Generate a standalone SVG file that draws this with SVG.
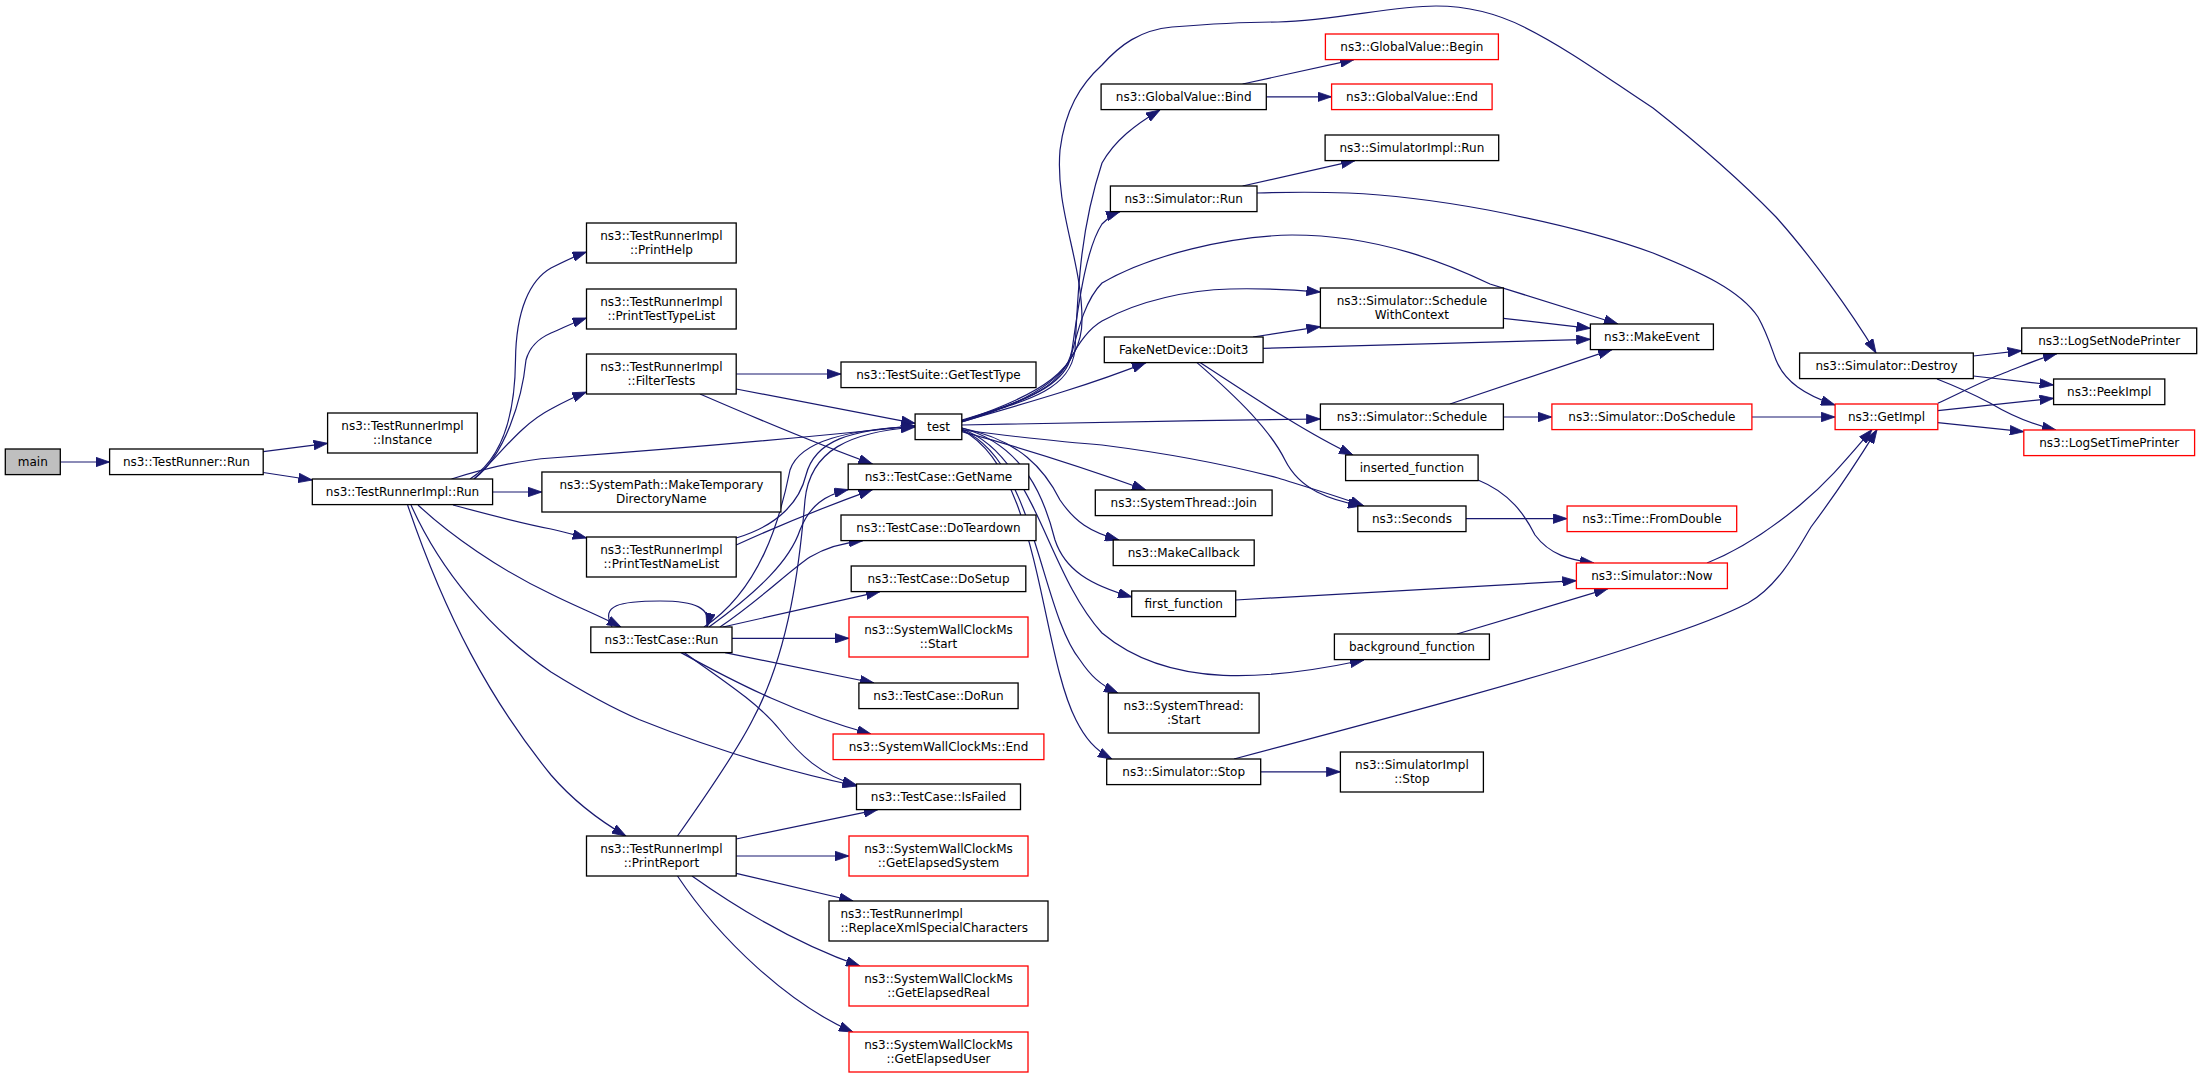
<svg xmlns="http://www.w3.org/2000/svg" width="2203" height="1077" viewBox="0 0 2203 1077">
<defs>
<marker id="ah" markerUnits="userSpaceOnUse" markerWidth="14" markerHeight="10" refX="14" refY="4.8" orient="auto" viewBox="0 0 14 9.6">
<path d="M0,0 L14,4.8 L0,9.6 z" fill="#191970" stroke="#191970" stroke-width="0.8"/>
</marker>
</defs>
<style>
rect{fill:#fff;stroke:#000;stroke-width:1.3}
.r rect{stroke:#ff0000}
.g rect{fill:#bfbfbf}
text{font-family:"DejaVu Sans",Verdana,sans-serif;font-size:12px;fill:#000;text-anchor:middle}
#edges path{fill:none;stroke:#191970;stroke-width:1.2;marker-end:url(#ah)}
</style>
<rect x="0" y="0" width="2203" height="1077" style="fill:#fff;stroke:none"/>
<g id="edges">
<path d="M60.3,462 L109.6,462"/>
<path d="M263.2,451.7 L327.6,443.3"/>
<path d="M263.2,472.5 L312.3,480"/>
<path d="M470,479 C500,460 515,420 515.5,360 C516,310 530,280 551,268 C565,261 575,256 586.5,252"/>
<path d="M474,479 C505,455 522,400 526,360 C530,345 540,338 551,333 C565,327 575,322 586.5,318"/>
<path d="M474,479 C500,455 520,425 551,409 C562,403 574,397 586.5,392"/>
<path d="M451.5,479 C490,467 520,460 551,458 C700,447 820,436 915,426"/>
<path d="M492.7,492 L541.9,492"/>
<path d="M453,505 C490,515 520,523 551,529 C565,532 575,535 586.6,538"/>
<path d="M418,505 C450,535 500,570 551,594 C575,606 600,616 621,627"/>
<path d="M411,505 C440,570 490,630 551,672 C580,690 610,707 639,719.5 C720,752 790,772 856.5,786"/>
<path d="M407.6,505 C445,615 490,700 551,775 C570,797 595,818 626,836"/>
<path d="M736.2,374 L841,374"/>
<path d="M736.2,389 L915.1,423.3"/>
<path d="M700,394 C760,420 820,445 872.5,464"/>
<path d="M736.2,545 C780,525 830,505 872.5,489.6"/>
<path d="M736.2,538 C780,525 800,500 806,475 C815,440 850,430 915.1,426"/>
<path d="M612,627 C600,605 620,601 660,601 C695,601 712,608 707,627"/>
<path d="M704,627 C760,590 780,520 790,470 C800,440 850,430 915.1,426"/>
<path d="M709,627 C760,590 790,560 800,530 C810,505 825,495 848.2,489.6"/>
<path d="M720,627 C760,600 790,570 810,557 C825,548 840,543 863,540.6"/>
<path d="M723,627 L880,591.6"/>
<path d="M731.6,638.3 L849,638.3"/>
<path d="M725,652.6 L874,683"/>
<path d="M681,652.6 C740,685 800,715 871,734"/>
<path d="M684,652.6 C730,685 760,705 780,730 C800,755 820,775 856.5,785"/>
<path d="M677.5,836 C710,790 740,745 753,719 C790,650 800,560 805,500 C810,450 850,432 915.1,427"/>
<path d="M736.2,839 L877.8,809.6"/>
<path d="M736.2,856 L849,856"/>
<path d="M736.2,873.3 L853.2,901"/>
<path d="M692,876 C740,910 800,945 860,966"/>
<path d="M677.5,876 C720,940 790,1005 853,1032"/>
<path d="M961.8,421 C1040,395 1082,370 1082,320 C1082,260 1055,210 1060,150 C1065,110 1080,85 1102,65 C1120,45 1140,30 1172,27 C1210,24 1250,22 1278,22 C1340,20 1390,6 1436,6 C1470,6 1500,15 1524,27 C1570,50 1610,80 1653,108 C1700,145 1740,180 1776,217 C1810,255 1850,310 1876,353"/>
<path d="M961.8,420 C1030,400 1070,390 1075,350 C1078,290 1080,230 1102,163 C1115,140 1135,125 1160,110"/>
<path d="M961.8,421 C1030,400 1065,385 1072,350 C1078,310 1085,250 1102,224 C1108,218 1113,214 1120,211.6"/>
<path d="M961.8,421 C1030,400 1062,385 1070,360 C1078,330 1085,300 1102,283 C1150,255 1230,236 1292,235 C1380,235 1450,265 1490,284 C1540,300 1580,312 1618,324"/>
<path d="M961.8,422 C1020,405 1055,385 1070,360 C1080,340 1090,328 1102,321 C1140,300 1190,290 1230,289 C1265,288 1295,290 1320.4,292"/>
<path d="M961.8,421.7 C1030,402 1090,385 1146,362.6"/>
<path d="M961.8,425 C1100,423 1200,420 1320.4,419"/>
<path d="M961.8,430 C1010,436 1060,442 1102,445 C1180,455 1240,468 1278,478 C1310,488 1340,497 1364,506"/>
<path d="M961.8,431.7 C1030,450 1090,470 1146,490"/>
<path d="M961.8,428 C1020,440 1045,470 1060,500 C1075,522 1090,532 1119,540"/>
<path d="M961.8,428 C1025,445 1045,500 1055,540 C1065,570 1090,585 1132,597"/>
<path d="M961.8,429 C1035,455 1045,570 1102,633 C1170,690 1270,680 1364,660"/>
<path d="M961.8,430 C1035,460 1040,610 1080,660 C1090,675 1100,685 1118,693"/>
<path d="M961.8,430 C1040,470 1040,650 1076,720 C1085,738 1095,750 1112,759"/>
<path d="M1242.6,84 L1354,59.6"/>
<path d="M1266.3,96.8 L1331.6,96.8"/>
<path d="M1242.6,186 L1355,160.6"/>
<path d="M1257,193 C1290,192 1320,192 1348,193 C1400,195 1450,203 1488,210 C1550,222 1610,237 1653,253 C1700,272 1740,290 1758,317 C1768,335 1772,350 1776,360 C1785,382 1805,395 1835,405"/>
<path d="M1503.4,318.3 L1590.4,328.3"/>
<path d="M1253,337 L1320.4,326.7"/>
<path d="M1263.1,348.3 L1590.4,339.3"/>
<path d="M1200,362.6 C1235,385 1300,430 1353,455"/>
<path d="M1197,362.6 C1240,400 1270,430 1285,460 C1300,490 1330,500 1362,506"/>
<path d="M1450,404 L1612,349.6"/>
<path d="M1503.4,417 L1551.9,417"/>
<path d="M1751.9,417 L1835.1,417"/>
<path d="M1478,480 C1510,493 1525,515 1535,535 C1550,555 1570,560 1594,563"/>
<path d="M1466,518.6 L1567.1,518.6"/>
<path d="M1235.7,600 L1576.4,580.7"/>
<path d="M1457,634 L1608,588.6"/>
<path d="M1707,563 C1740,550 1770,530 1800,505 C1830,480 1850,455 1872,429.6"/>
<path d="M1234,759 C1400,715 1550,675 1653,640 C1690,628 1725,615 1748,603 C1780,585 1800,545 1811,527 C1835,495 1855,465 1877,429.6"/>
<path d="M1260.7,771.8 L1340.4,771.8"/>
<path d="M1973.3,356 L2021.7,350.7"/>
<path d="M1973.3,376 L2053.6,385"/>
<path d="M1937,379 C1960,388 1975,395 1990,403 C2010,415 2030,424 2056,430"/>
<path d="M1937.8,403.3 C1960,393 1985,380 2004,373 C2025,365 2040,358 2057,353.6"/>
<path d="M1937.8,410.7 L2053.6,398.3"/>
<path d="M1937.8,422.7 L2023.8,431.7"/>
</g>
<g id="main" class="g"><rect x="5.3" y="449" width="55" height="25.6"/><text x="32.8" y="466">main</text></g>
<g id="trrun"><rect x="109.6" y="449" width="153.6" height="25.6"/><text x="186.4" y="466">ns3::TestRunner::Run</text></g>
<g id="instance"><rect x="327.6" y="413" width="149.7" height="40"/><text x="402.5" y="430">ns3::TestRunnerImpl</text><text x="402.5" y="444">::Instance</text></g>
<g id="implrun"><rect x="312.3" y="479" width="180.3" height="25.6"/><text x="402.5" y="496">ns3::TestRunnerImpl::Run</text></g>
<g id="printhelp"><rect x="586.5" y="223" width="149.7" height="40"/><text x="661.4" y="240">ns3::TestRunnerImpl</text><text x="661.4" y="254">::PrintHelp</text></g>
<g id="printtesttypelist"><rect x="586.5" y="289" width="149.7" height="40"/><text x="661.4" y="306">ns3::TestRunnerImpl</text><text x="661.4" y="320">::PrintTestTypeList</text></g>
<g id="filtertests"><rect x="586.5" y="354" width="149.7" height="40"/><text x="661.4" y="371">ns3::TestRunnerImpl</text><text x="661.4" y="385">::FilterTests</text></g>
<g id="maketemp"><rect x="541.9" y="472" width="239" height="40"/><text x="661.4" y="489">ns3::SystemPath::MakeTemporary</text><text x="661.4" y="503">DirectoryName</text></g>
<g id="printtestnamelist"><rect x="586.5" y="537" width="149.7" height="40"/><text x="661.4" y="554">ns3::TestRunnerImpl</text><text x="661.4" y="568">::PrintTestNameList</text></g>
<g id="tcrun"><rect x="590.8" y="627" width="141.2" height="25.6"/><text x="661.4" y="644">ns3::TestCase::Run</text></g>
<g id="printreport"><rect x="586.5" y="836" width="149.7" height="40"/><text x="661.4" y="853">ns3::TestRunnerImpl</text><text x="661.4" y="867">::PrintReport</text></g>
<g id="gettesttype"><rect x="841" y="362" width="195" height="25.6"/><text x="938.5" y="379">ns3::TestSuite::GetTestType</text></g>
<g id="test"><rect x="915.1" y="414" width="46.7" height="25.6"/><text x="938.5" y="431">test</text></g>
<g id="getname"><rect x="848.2" y="464" width="180.6" height="25.6"/><text x="938.5" y="481">ns3::TestCase::GetName</text></g>
<g id="doteardown"><rect x="841" y="515" width="195" height="25.6"/><text x="938.5" y="532">ns3::TestCase::DoTeardown</text></g>
<g id="dosetup"><rect x="851.2" y="566" width="174.6" height="25.6"/><text x="938.5" y="583">ns3::TestCase::DoSetup</text></g>
<g id="start" class="r"><rect x="849" y="617" width="179" height="40"/><text x="938.5" y="634">ns3::SystemWallClockMs</text><text x="938.5" y="648">::Start</text></g>
<g id="dorun"><rect x="858.9" y="683" width="159.2" height="25.6"/><text x="938.5" y="700">ns3::TestCase::DoRun</text></g>
<g id="end" class="r"><rect x="833.1" y="734" width="210.8" height="25.6"/><text x="938.5" y="751">ns3::SystemWallClockMs::End</text></g>
<g id="isfailed"><rect x="856.5" y="784" width="164" height="25.6"/><text x="938.5" y="801">ns3::TestCase::IsFailed</text></g>
<g id="elapsedsystem" class="r"><rect x="849" y="836" width="179" height="40"/><text x="938.5" y="853">ns3::SystemWallClockMs</text><text x="938.5" y="867">::GetElapsedSystem</text></g>
<g id="replace"><rect x="829" y="901" width="219" height="40"/><text x="840.5" y="918" style="text-anchor:start">ns3::TestRunnerImpl</text><text x="840.5" y="932" style="text-anchor:start">::ReplaceXmlSpecialCharacters</text></g>
<g id="elapsedreal" class="r"><rect x="849" y="966" width="179" height="40"/><text x="938.5" y="983">ns3::SystemWallClockMs</text><text x="938.5" y="997">::GetElapsedReal</text></g>
<g id="elapseduser" class="r"><rect x="849" y="1032" width="179" height="40"/><text x="938.5" y="1049">ns3::SystemWallClockMs</text><text x="938.5" y="1063">::GetElapsedUser</text></g>
<g id="bind"><rect x="1101.1" y="84" width="165.2" height="25.6"/><text x="1183.7" y="101">ns3::GlobalValue::Bind</text></g>
<g id="simrun"><rect x="1110.4" y="186" width="146.6" height="25.6"/><text x="1183.7" y="203">ns3::Simulator::Run</text></g>
<g id="doit3"><rect x="1104.3" y="337" width="158.8" height="25.6"/><text x="1183.7" y="354">FakeNetDevice::Doit3</text></g>
<g id="join"><rect x="1095.3" y="490" width="176.8" height="25.6"/><text x="1183.7" y="507">ns3::SystemThread::Join</text></g>
<g id="makecallback"><rect x="1113.2" y="540" width="141" height="25.6"/><text x="1183.7" y="557">ns3::MakeCallback</text></g>
<g id="firstfunction"><rect x="1131.7" y="591" width="104" height="25.6"/><text x="1183.7" y="608">first_function</text></g>
<g id="threadstart"><rect x="1108.3" y="693" width="150.8" height="40"/><text x="1183.7" y="710">ns3::SystemThread:</text><text x="1183.7" y="724">:Start</text></g>
<g id="stop"><rect x="1106.7" y="759" width="154" height="25.6"/><text x="1183.7" y="776">ns3::Simulator::Stop</text></g>
<g id="begin" class="r"><rect x="1325.4" y="34" width="173" height="25.6"/><text x="1411.9" y="51">ns3::GlobalValue::Begin</text></g>
<g id="gvend" class="r"><rect x="1331.6" y="84" width="160.5" height="25.6"/><text x="1411.9" y="101">ns3::GlobalValue::End</text></g>
<g id="simimplrun"><rect x="1325.1" y="135" width="173.6" height="25.6"/><text x="1411.9" y="152">ns3::SimulatorImpl::Run</text></g>
<g id="swc"><rect x="1320.4" y="288" width="183" height="40"/><text x="1411.9" y="305">ns3::Simulator::Schedule</text><text x="1411.9" y="319">WithContext</text></g>
<g id="schedule"><rect x="1320.4" y="404" width="183" height="25.6"/><text x="1411.9" y="421">ns3::Simulator::Schedule</text></g>
<g id="inserted"><rect x="1345.6" y="455" width="132.5" height="25.6"/><text x="1411.9" y="472">inserted_function</text></g>
<g id="seconds"><rect x="1357.8" y="506" width="108.2" height="25.6"/><text x="1411.9" y="523">ns3::Seconds</text></g>
<g id="background"><rect x="1334.4" y="634" width="155" height="25.6"/><text x="1411.9" y="651">background_function</text></g>
<g id="simimplstop"><rect x="1340.4" y="752" width="143" height="40"/><text x="1411.9" y="769">ns3::SimulatorImpl</text><text x="1411.9" y="783">::Stop</text></g>
<g id="makeevent"><rect x="1590.4" y="324" width="123" height="25.6"/><text x="1651.9" y="341">ns3::MakeEvent</text></g>
<g id="doschedule" class="r"><rect x="1551.9" y="404" width="200" height="25.6"/><text x="1651.9" y="421">ns3::Simulator::DoSchedule</text></g>
<g id="fromdouble" class="r"><rect x="1567.1" y="506" width="169.6" height="25.6"/><text x="1651.9" y="523">ns3::Time::FromDouble</text></g>
<g id="now" class="r"><rect x="1576.4" y="563" width="151" height="25.6"/><text x="1651.9" y="580">ns3::Simulator::Now</text></g>
<g id="destroy"><rect x="1799.6" y="353" width="173.7" height="25.6"/><text x="1886.5" y="370">ns3::Simulator::Destroy</text></g>
<g id="getimpl" class="r"><rect x="1835.1" y="404" width="102.7" height="25.6"/><text x="1886.5" y="421">ns3::GetImpl</text></g>
<g id="lognode"><rect x="2021.7" y="328" width="175" height="25.6"/><text x="2109.2" y="345">ns3::LogSetNodePrinter</text></g>
<g id="peekimpl"><rect x="2053.6" y="379" width="111.2" height="25.6"/><text x="2109.2" y="396">ns3::PeekImpl</text></g>
<g id="logtime" class="r"><rect x="2023.8" y="430" width="170.8" height="25.6"/><text x="2109.2" y="447">ns3::LogSetTimePrinter</text></g>
</svg>
